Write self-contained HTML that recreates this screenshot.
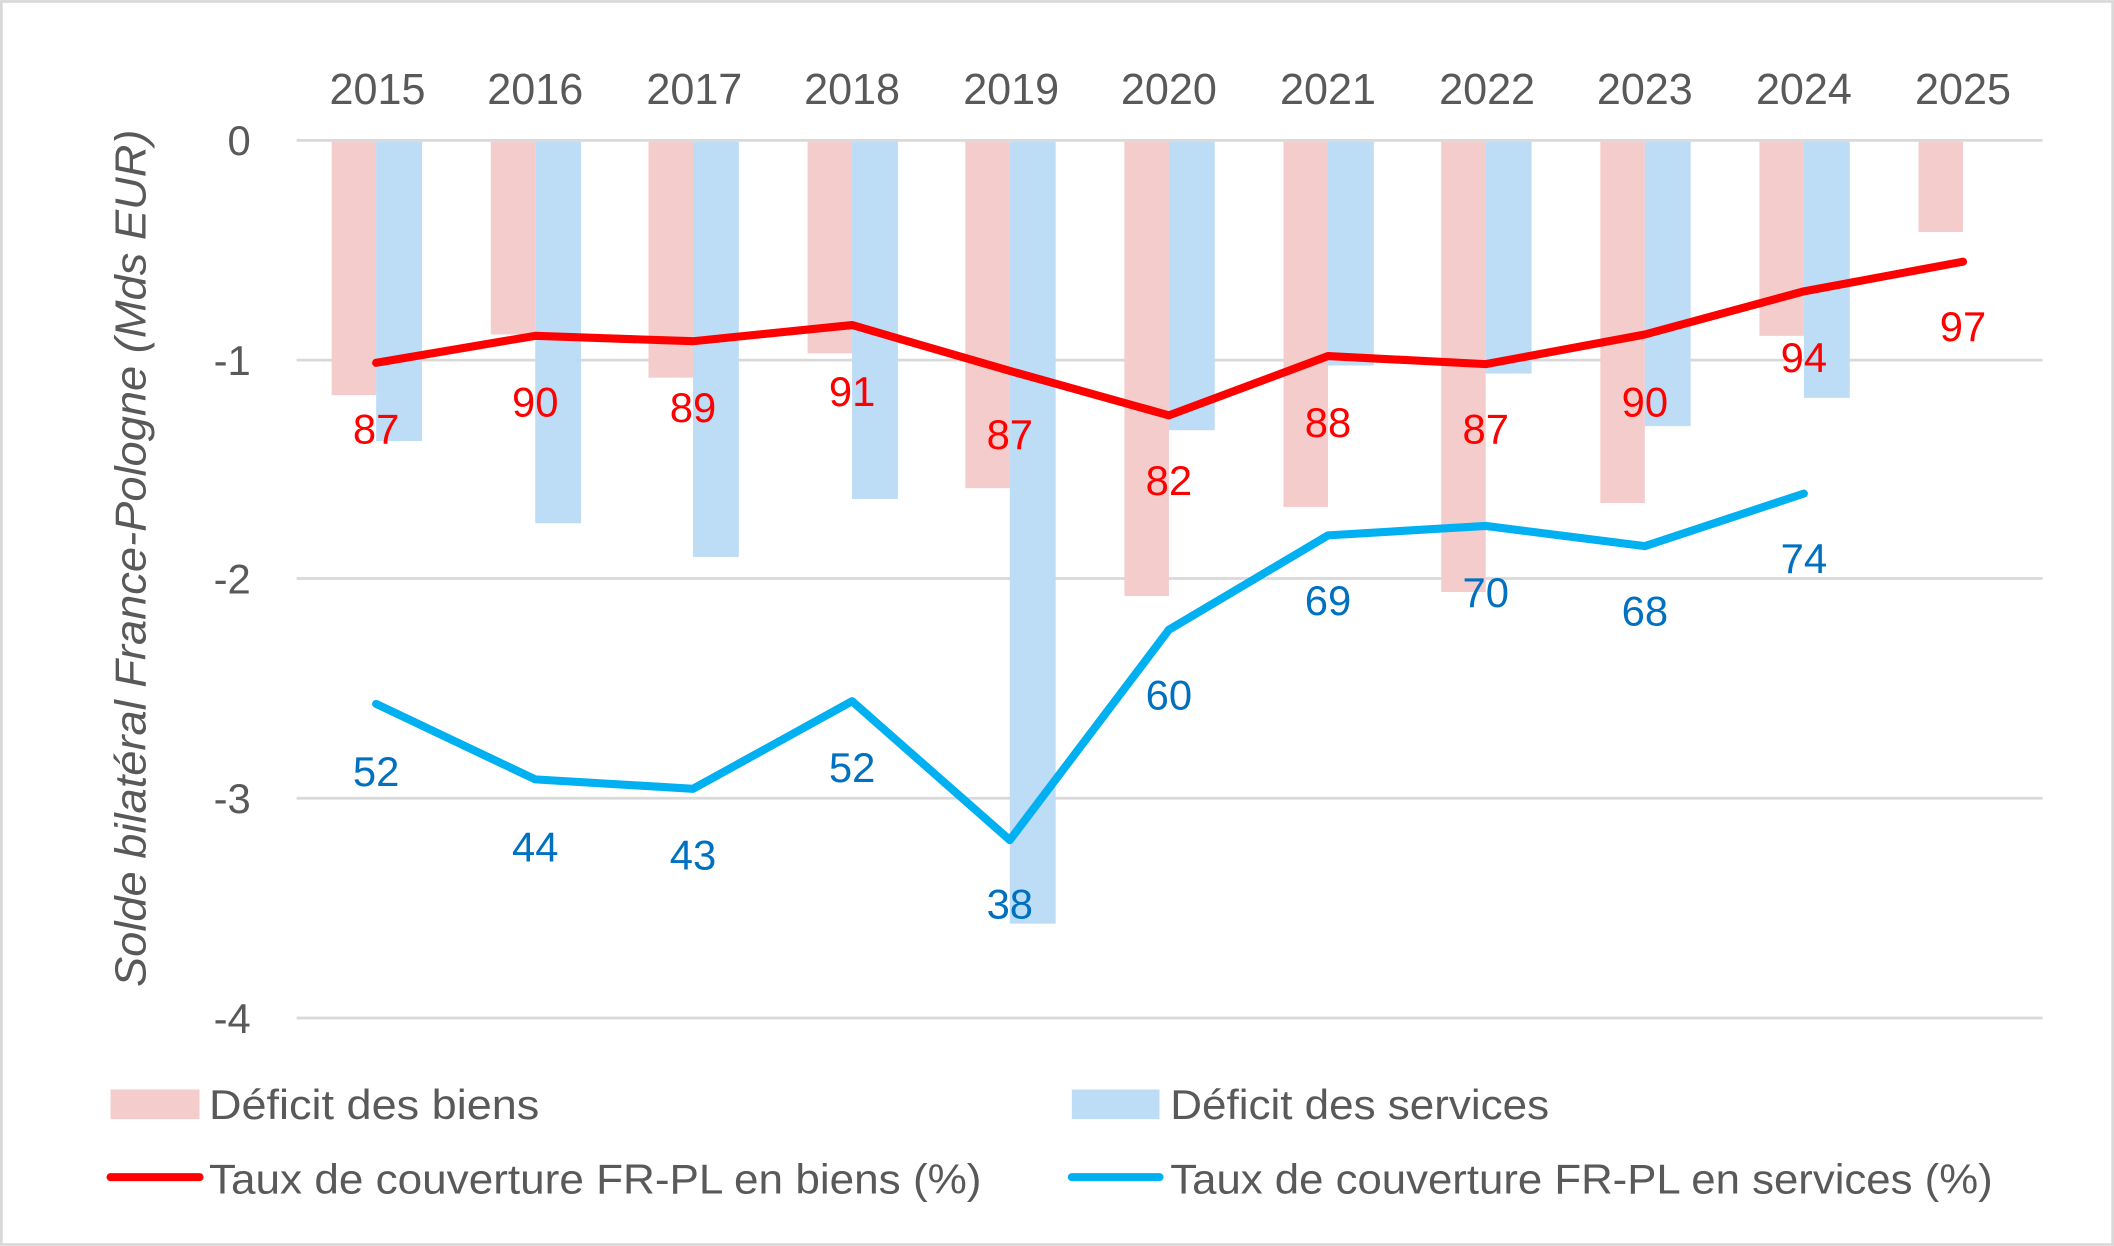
<!DOCTYPE html>
<html><head><meta charset="utf-8"><style>
html,body{margin:0;padding:0;background:#fff;}
svg{display:block;}
text{font-family:"Liberation Sans","DejaVu Sans",sans-serif;}
</style></head><body>
<svg width="2114" height="1246" viewBox="0 0 1568 924" xmlns="http://www.w3.org/2000/svg">
<rect x="1" y="1" width="1566" height="922" fill="#fff" stroke="#d9d9d9" stroke-width="2"/>
<g stroke="#d9d9d9" stroke-width="2">
<line x1="220" x2="1515" y1="104" y2="104"/>
<line x1="220" x2="1515" y1="267" y2="267"/>
<line x1="220" x2="1515" y1="429" y2="429"/>
<line x1="220" x2="1515" y1="592" y2="592"/>
<line x1="220" x2="1515" y1="755" y2="755"/>
</g>
<g fill="#595959" font-size="31" text-anchor="end">
<text x="186" y="115">0</text>
<text x="186" y="278">-1</text>
<text x="186" y="440">-2</text>
<text x="186" y="603">-3</text>
<text x="186" y="766">-4</text>
</g>
<text transform="translate(108,414) rotate(-90)" fill="#595959" font-size="32" font-style="italic" text-anchor="middle" textLength="636" lengthAdjust="spacingAndGlyphs">Solde bilatéral France-Pologne (Mds EUR)</text>
<g fill="#595959" font-size="32" text-anchor="middle">
<text x="280" y="77">2015</text><text x="397" y="77">2016</text><text x="515" y="77">2017</text><text x="632" y="77">2018</text><text x="750" y="77">2019</text><text x="867" y="77">2020</text><text x="985" y="77">2021</text><text x="1103" y="77">2022</text><text x="1220" y="77">2023</text><text x="1338" y="77">2024</text><text x="1456" y="77">2025</text>
</g>
<g fill="#f4cccc">
<rect x="246" y="105" width="33" height="188"/>
<rect x="364" y="105" width="33" height="143"/>
<rect x="481" y="105" width="33" height="175"/>
<rect x="599" y="105" width="33" height="157"/>
<rect x="716" y="105" width="33" height="257"/>
<rect x="834" y="105" width="33" height="337"/>
<rect x="952" y="105" width="33" height="271"/>
<rect x="1069" y="105" width="33" height="334"/>
<rect x="1187" y="105" width="33" height="268"/>
<rect x="1305" y="105" width="33" height="144"/>
<rect x="1423" y="105" width="33" height="67"/>
</g>
<g fill="#bddcf6">
<rect x="279" y="105" width="34" height="222"/>
<rect x="397" y="105" width="34" height="283"/>
<rect x="514" y="105" width="34" height="308"/>
<rect x="632" y="105" width="34" height="265"/>
<rect x="749" y="105" width="34" height="580"/>
<rect x="867" y="105" width="34" height="214"/>
<rect x="985" y="105" width="34" height="166"/>
<rect x="1102" y="105" width="34" height="172"/>
<rect x="1220" y="105" width="34" height="211"/>
<rect x="1338" y="105" width="34" height="190"/>
</g>
<polyline fill="none" stroke="#ff0000" stroke-width="6" stroke-linecap="round" stroke-linejoin="round" points="279,269 397,249 514,253 632,241 749,275 867,308 985,264 1102,270 1220,248 1338,216 1456,194"/>
<polyline fill="none" stroke="#00b0f0" stroke-width="6" stroke-linecap="round" stroke-linejoin="round" points="279,522 397,578 514,585 632,520 749,623 867,467 985,397 1102,390 1220,405 1338,366"/>
<g fill="#ff0000" font-size="31" text-anchor="middle">
<text x="279" y="329">87</text><text x="397" y="309">90</text><text x="514" y="313">89</text><text x="632" y="301">91</text><text x="749" y="333">87</text><text x="867" y="367">82</text><text x="985" y="324">88</text><text x="1102" y="329">87</text><text x="1220" y="309">90</text><text x="1338" y="276">94</text><text x="1456" y="253">97</text>
</g>
<g fill="#0070c0" font-size="31" text-anchor="middle">
<text x="279" y="583">52</text><text x="397" y="639">44</text><text x="514" y="645">43</text><text x="632" y="580">52</text><text x="749" y="681">38</text><text x="867" y="526">60</text><text x="985" y="456">69</text><text x="1102" y="450">70</text><text x="1220" y="464">68</text><text x="1338" y="425">74</text>
</g>
<rect x="82" y="808" width="66" height="22" fill="#f4cccc"/>
<rect x="795" y="808" width="65" height="22" fill="#bddcf6"/>
<line x1="82" x2="148" y1="873" y2="873" stroke="#ff0000" stroke-width="6" stroke-linecap="round"/>
<line x1="795" x2="860" y1="873" y2="873" stroke="#00b0f0" stroke-width="6" stroke-linecap="round"/>
<g fill="#595959" font-size="31">
<text x="155" y="830" textLength="245" lengthAdjust="spacingAndGlyphs">Déficit des biens</text>
<text x="868" y="830" textLength="281" lengthAdjust="spacingAndGlyphs">Déficit des services</text>
<text x="155" y="885" textLength="573" lengthAdjust="spacingAndGlyphs">Taux de couverture FR-PL en biens (%)</text>
<text x="868" y="885" textLength="610" lengthAdjust="spacingAndGlyphs">Taux de couverture FR-PL en services (%)</text>
</g>
</svg>
</body></html>
